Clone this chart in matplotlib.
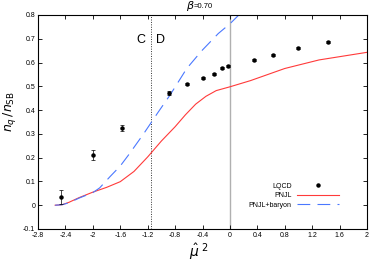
import numpy as np
import matplotlib
matplotlib.use("Agg")
import matplotlib.pyplot as plt
from matplotlib.lines import Line2D

plt.rcParams['font.family'] = ['Liberation Sans', 'DejaVu Sans']
plt.rcParams['mathtext.fontset'] = 'dejavusans'

# lattice data
lqcd_x = [-2.46, -2.0, -1.58, -0.89, -0.63, -0.40, -0.226, -0.109, -0.03, 0.35, 0.63, 0.99, 1.43]
lqcd_y = [0.034, 0.210, 0.324, 0.473, 0.510, 0.534, 0.553, 0.576, 0.585, 0.609, 0.633, 0.661, 0.685]
lqcd_err = [0.028, 0.021, 0.013, 0.008, 0.005, 0.004, 0.004, 0.004, 0.004, 0.004, 0.004, 0.004, 0.004]

# PNJL
pnjl_x = [-2.55, -2.45, -2.35, -2.2, -2.0, -1.8, -1.6, -1.4, -1.2, -1.0, -0.8, -0.65,
          -0.5, -0.35, -0.2, 0.0, 0.3, 0.8, 1.3, 2.0]
pnjl_y = [0.0, 0.002, 0.012, 0.032, 0.055, 0.075, 0.099, 0.142, 0.203, 0.270, 0.330, 0.380,
          0.425, 0.458, 0.482, 0.498, 0.524, 0.575, 0.611, 0.643]

# PNJL + baryon
bar_x = [-2.55, -2.45, -2.35, -2.2, -2.0, -1.9, -1.75, -1.6, -1.48, -1.26, -1.05, -0.87,
         -0.63, -0.41, -0.17, 0.0, 0.13]
bar_y = [0.0, 0.002, 0.010, 0.030, 0.053, 0.073, 0.120, 0.165, 0.211, 0.300, 0.390, 0.465,
         0.575, 0.650, 0.722, 0.763, 0.800]

mu_cd = -1.155
xticks = np.arange(-2.8, 2.01, 0.4)
xtick_labels = ['-2.8', '-2.4', '-2', '-1.6', '-1.2', '-0.8', '-0.4', '0', '0.4', '0.8', '1.2', '1.6', '2']
yticks = np.arange(-0.1, 0.81, 0.1)
ytick_labels = ['-0.1', '0', '0.1', '0.2', '0.3', '0.4', '0.5', '0.6', '0.7', '0.8']

fig = plt.figure(figsize=(3.69, 2.64), dpi=100)
ax = fig.add_axes([0.103, 0.1326, 0.8916, 0.8106])

ax.axvline(0, color='#b0b0b0', lw=1.0, zorder=1)
ax.axvline(mu_cd, color='#333333', lw=0.7, ls=(0, (1, 1.5)), zorder=1)

ax.plot(pnjl_x, pnjl_y, color='#ff3a3a', lw=0.8, zorder=2)
ax.plot(bar_x, bar_y, color='#4a78ff', lw=0.8, dashes=(11.5, 6.5), zorder=2)
ax.errorbar(lqcd_x, lqcd_y, yerr=lqcd_err, fmt='o', color='black', ms=2.2,
            elinewidth=0.5, capsize=1.5, capthick=0.5, zorder=3)

ax.text(-1.30, 0.694, 'C', fontsize=9, ha='center', va='center')
ax.text(-1.02, 0.694, 'D', fontsize=9, ha='center', va='center')

ax.set_xlim(-2.8, 2.0)
ax.set_ylim(-0.1, 0.8)
ax.set_xticks(xticks)
ax.set_xticklabels(xtick_labels)
ax.set_yticks(yticks)
ax.set_yticklabels(ytick_labels)
ax.tick_params(direction='in', top=True, right=True, length=3, width=0.6,
               labelsize=5, pad=2)
for s in ax.spines.values():
    s.set_linewidth(0.8)

ax.set_ylabel(r'$n_q\,/n_{\rm SB}$', fontsize=9)
ax.yaxis.set_label_coords(-0.062, 0.55)
ax.set_xlabel(r'$\hat{\mu}^{\ 2}$', fontsize=10)
ax.xaxis.set_label_coords(0.49, -0.055)

fig.text(186 / 369, 1 - 6 / 264, r'$\beta$', fontsize=8, va='center', ha='left')
fig.text(193.5 / 369, 1 - 6 / 264, '=0.70', fontsize=5.5, va='center', ha='left')

handles = [Line2D([], [], ls='none', marker='o', color='black', ms=2.2),
           Line2D([], [], color='#ff3a3a', lw=0.8),
           Line2D([], [], color='#4a78ff', lw=0.8, dashes=(11.5, 6.5))]
labels = ['LQCD', 'PNJL', 'PNJL+baryon']
leg = ax.legend(handles, labels,
                loc='lower right', bbox_to_anchor=(0.915, 0.095), frameon=False,
                markerfirst=False, fontsize=5, handlelength=6, handletextpad=0.8,
                labelspacing=0.35, borderpad=0, borderaxespad=0)

plt.savefig('out.png', dpi=100)
